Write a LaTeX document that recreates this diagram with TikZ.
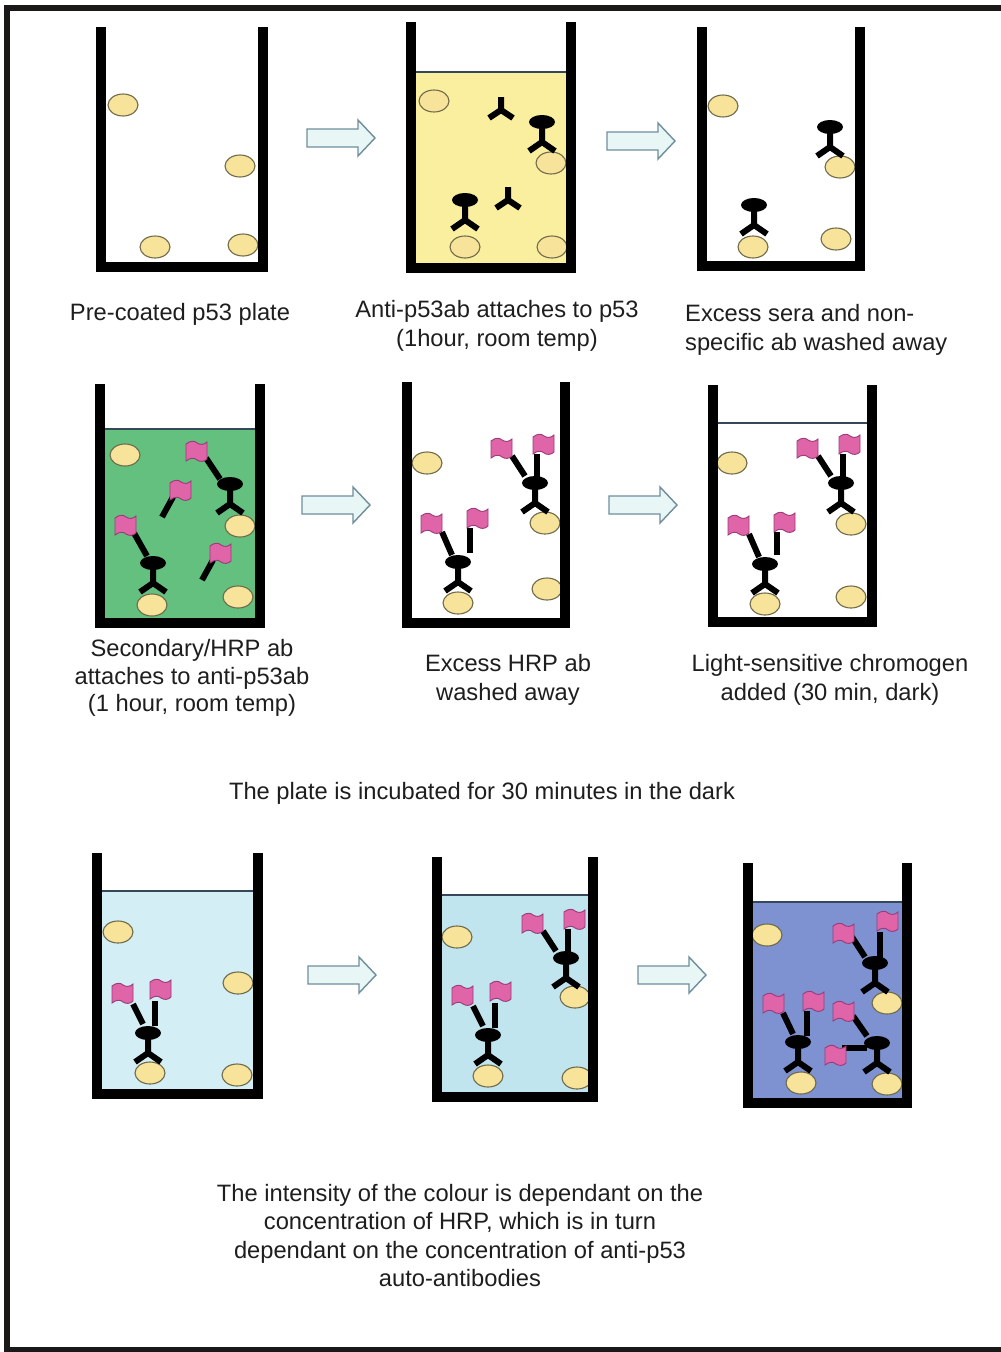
\documentclass[tikz,border=0pt]{standalone}
\usepackage{fontspec}
\setmainfont{Liberation Sans}
\definecolor{beadfill}{HTML}{F8E39A}
\definecolor{beadline}{HTML}{6E6A4A}
\definecolor{flagpink}{HTML}{E064A8}
\definecolor{flagline}{HTML}{9A3A78}
\definecolor{arrowfill}{HTML}{E8F6F6}
\definecolor{arrowline}{HTML}{6F8E9C}
\definecolor{txt}{HTML}{1E1E1E}
\definecolor{surfline}{HTML}{34485A}
\definecolor{liqyellow}{HTML}{FAEE9F}
\definecolor{liqgreen}{HTML}{63C07F}
\definecolor{liqpale}{HTML}{D3EEF5}
\definecolor{liqlight}{HTML}{C0E5EF}
\definecolor{liqdeep}{HTML}{7E92D2}
\definecolor{framecol}{HTML}{1B1818}

% well: outer left x, outer right x, top y, outer bottom y
\newcommand{\wellwalls}[4]{\draw[wall] (#1+5,#3) -- (#1+5,#4-5) -- (#2-5,#4-5) -- (#2-5,#3);}
% liquid: outer left x, outer right x, surface y, outer bottom y, colour
\newcommand{\liquid}[5]{\fill[#5] (#1+9,#3) rectangle (#2-9,#4-9);
  \draw[surface] (#1+9,#3) -- (#2-9,#3);}
\newcommand{\bead}[2]{\draw[bead] (#1,#2) ellipse [x radius=15pt, y radius=11pt];}
% bound antibody, centre of the head
\newcommand{\abbound}[2]{\fill (#1,#2) ellipse [x radius=13pt, y radius=7pt];
  \draw[ab] (#1,#2) -- (#1,#2+20) (#1-13,#2+29) -- (#1,#2+20) -- (#1+13,#2+29);}
% free antibody, junction point
\newcommand{\abfree}[2]{\draw[ab] (#1,#2-13) -- (#1,#2) (#1-12,#2+8) -- (#1,#2) -- (#1+12,#2+8);}
% HRP label flag, top left corner
\newcommand{\flagat}[2]{\draw[flagst] (#1,#2+2) .. controls (#1+5,#2-2) and (#1+9,#2-1) .. (#1+11,#2+1)
  .. controls (#1+14,#2+3) and (#1+18,#2+3) .. (#1+21,#2) -- (#1+21,#2+17)
  .. controls (#1+18,#2+20) and (#1+14,#2+20) .. (#1+11,#2+18)
  .. controls (#1+9,#2+16) and (#1+5,#2+15) .. (#1,#2+19) -- cycle;}
\newcommand{\stick}[4]{\draw[stick] (#1,#2) -- (#3,#4);}
% block arrow, left end and axis y
\newcommand{\barrow}[2]{\draw[blockarrow] (#1,#2-9) -- (#1+51,#2-9) -- (#1+51,#2-18) -- (#1+68,#2)
  -- (#1+51,#2+18) -- (#1+51,#2+9) -- (#1,#2+9) -- cycle;}

\begin{document}
\begin{tikzpicture}[x=1pt,y=-1pt,
  wall/.style={line width=10.5pt, draw=black, line join=miter, line cap=butt},
  bead/.style={fill=beadfill, draw=beadline, line width=1.1pt},
  ab/.style={line width=6pt, draw=black, line cap=butt, line join=miter},
  stick/.style={line width=6pt, draw=black, line cap=butt},
  flagst/.style={fill=flagpink, draw=flagline, line width=0.9pt},
  blockarrow/.style={fill=arrowfill, draw=arrowline, line width=1.4pt, line join=miter},
  surface/.style={draw=surfline, line width=1.1pt},
  lbl/.style={font=\fontsize{23.7}{28.5}\selectfont, text=txt, inner sep=0pt}
]
\useasboundingbox (0,0) rectangle (1001,1352);
\fill[white] (0,0) rectangle (1001,1352);
\draw[framecol, line width=6pt] (1010,8) -- (7,8) -- (7,1350) -- (1010,1350);

% ---------- row 1 ----------
% well 1: pre-coated plate
\bead{123}{105} \bead{240}{166} \bead{155}{247} \bead{243}{245}
\wellwalls{96}{268}{27}{272}

% well 2: serum incubation
\liquid{406}{576}{72}{273}{liqyellow}
\bead{434}{101} \bead{551}{163} \bead{465}{247} \bead{552}{247}
\abfree{501}{110} \abfree{508}{200}
\abbound{542}{122} \abbound{465}{200}
\wellwalls{406}{576}{22}{273}

% well 3: washed
\bead{723}{106} \bead{840}{167} \bead{753}{247} \bead{836}{239}
\abbound{830}{127} \abbound{754}{205}
\wellwalls{697}{865}{27}{271}

\barrow{307}{138}
\barrow{607}{141}

\node[lbl, anchor=base] (t1) at (180,320) {Pre-coated p53 plate};
\node[lbl, anchor=base] (t2a) at (497,317) {Anti-p53ab attaches to p53};
\node[lbl, anchor=base] (t2b) at (497,346) {(1hour, room temp)};
\node[lbl, anchor=base west] (t3a) at (685,321) {Excess sera and non-};
\node[lbl, anchor=base west] (t3b) at (685,350) {specific ab washed away};

% ---------- row 2 ----------
% well 4: secondary antibody
\liquid{95}{265}{429}{628}{liqgreen}
\bead{125}{455} \bead{240}{526} \bead{152}{605} \bead{238}{597}
\abbound{230}{484} \stick{220}{479}{206}{458} \flagat{186}{442}
\stick{162}{517}{173}{497} \flagat{170}{481}
\abbound{153}{563} \stick{147}{556}{134}{533} \flagat{115}{516}
\stick{202}{580}{213}{560} \flagat{210}{544}
\wellwalls{95}{265}{384}{628}

% well 5: washed
\bead{427}{463} \bead{545}{523} \bead{458}{603} \bead{547}{589}
\abbound{535}{483} \stick{525}{476}{512}{456} \flagat{491}{439}
\stick{537}{477}{537}{454} \flagat{533}{435}
\abbound{458}{562} \stick{452}{555}{442}{532} \flagat{421}{514}
\stick{470}{553}{470}{528} \flagat{467}{509}
\wellwalls{402}{570}{382}{628}

% well 6: chromogen added
\draw[surface] (717,423) -- (868,423);
\bead{732}{463} \bead{851}{524} \bead{765}{604} \bead{851}{597}
\abbound{841}{483} \stick{831}{476}{818}{456} \flagat{797}{439}
\stick{843}{477}{843}{454} \flagat{839}{435}
\abbound{765}{564} \stick{759}{557}{749}{534} \flagat{728}{516}
\stick{777}{555}{777}{532} \flagat{774}{513}
\wellwalls{708}{877}{385}{627}

\barrow{302}{505}
\barrow{609}{505}

\node[lbl, anchor=base] (t4a) at (192,656) {Secondary/HRP ab};
\node[lbl, anchor=base] (t4b) at (192,684) {attaches to anti-p53ab};
\node[lbl, anchor=base] (t4c) at (192,711) {(1 hour, room temp)};
\node[lbl, anchor=base] (t5a) at (508,671) {Excess HRP ab};
\node[lbl, anchor=base] (t5b) at (508,700) {washed away};
\node[lbl, anchor=base] (t6a) at (830,671) {Light-sensitive chromogen};
\node[lbl, anchor=base] (t6b) at (830,700) {added (30 min, dark)};

\node[lbl, anchor=base] (tmid) at (482,799) {The plate is incubated for 30 minutes in the dark};

% ---------- row 3 ----------
% well 7: faint colour
\liquid{92}{263}{891}{1099}{liqpale}
\bead{118}{932} \bead{238}{983} \bead{150}{1073} \bead{237}{1075}
\abbound{148}{1033} \stick{143}{1024}{133}{1004} \flagat{112}{984}
\stick{155}{1026}{155}{1001} \flagat{150}{980}
\wellwalls{92}{263}{853}{1099}

% well 8: medium colour
\liquid{432}{598}{895}{1102}{liqlight}
\bead{457}{937} \bead{575}{997} \bead{488}{1076} \bead{577}{1078}
\abbound{566}{958} \stick{556}{951}{543}{931} \flagat{522}{914}
\stick{568}{952}{568}{929} \flagat{564}{910}
\abbound{488}{1035} \stick{483}{1026}{473}{1006} \flagat{452}{986}
\stick{495}{1028}{495}{1003} \flagat{490}{982}
\wellwalls{432}{598}{857}{1102}

% well 9: strong colour
\liquid{743}{912}{902}{1108}{liqdeep}
\bead{767}{935} \bead{887}{1003} \bead{801}{1083} \bead{887}{1084}
\abbound{875}{963} \stick{865}{957}{852}{937} \flagat{833}{924}
\stick{880}{958}{880}{932} \flagat{877}{912}
\abbound{798}{1042} \stick{793}{1034}{783}{1013} \flagat{763}{994}
\stick{807}{1036}{807}{1011} \flagat{803}{992}
\abbound{877}{1043} \stick{867}{1036}{853}{1016} \flagat{833}{1002}
\stick{867}{1048}{842}{1048} \flagat{825}{1046}
\wellwalls{743}{912}{863}{1108}

\barrow{308}{975}
\barrow{638}{975}

\node[lbl, anchor=base] (b1) at (460,1201) {The intensity of the colour is dependant on the};
\node[lbl, anchor=base] (b2) at (460,1229) {concentration of HRP, which is in turn};
\node[lbl, anchor=base] (b3) at (460,1258) {dependant on the concentration of anti-p53};
\node[lbl, anchor=base] (b4) at (460,1286) {auto-antibodies};
\end{tikzpicture}
\end{document}
